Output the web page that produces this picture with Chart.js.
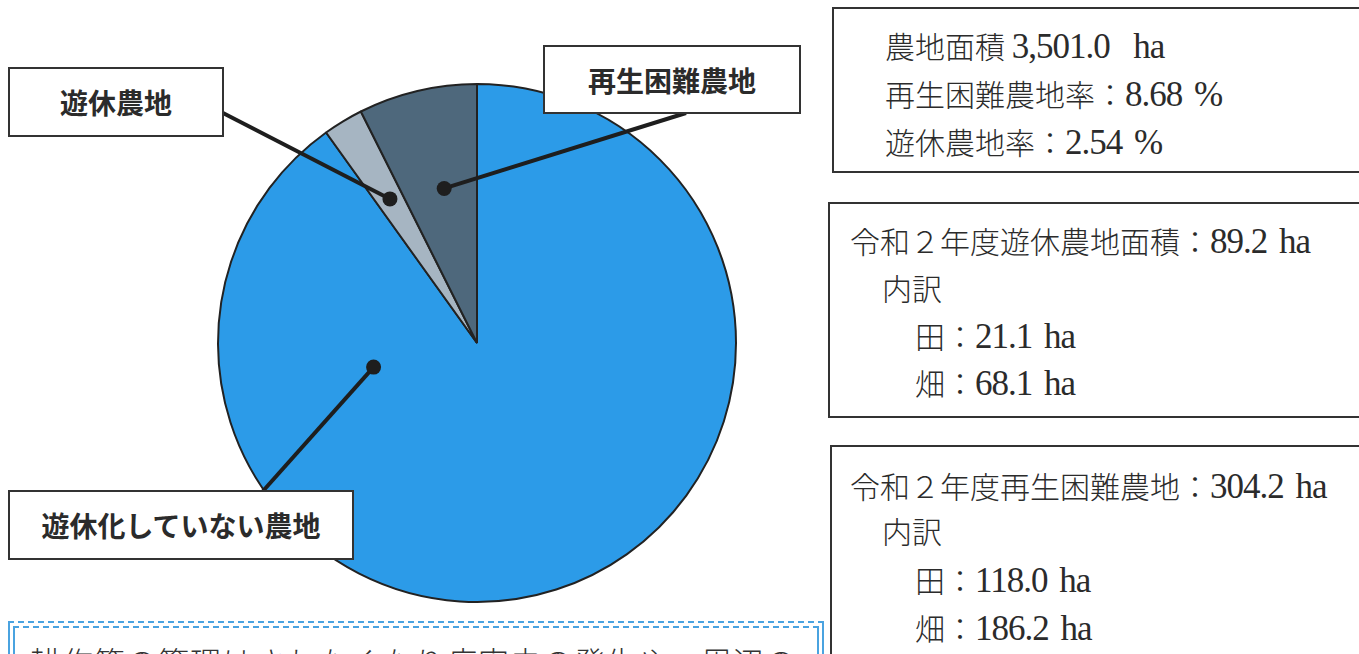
<!DOCTYPE html>
<html lang="ja">
<head>
<meta charset="utf-8">
<script src="https://cdn.jsdelivr.net/npm/chart.js@4/dist/chart.umd.min.js"></script>
<style>
  html, body { margin: 0; padding: 0; background: #fff; }
  body { width: 1359px; height: 654px; position: relative; overflow: hidden; }
  #chart-wrap { position: absolute; left: 0; top: 0; width: 1359px; height: 654px; }
  .label-box {
    position: absolute; background: #fff; border: 2.5px solid #333;
    font-family: "Noto Sans CJK JP", sans-serif; font-weight: bold;
    font-size: 28px; color: #2b2b2b; display: flex; align-items: center; justify-content: center;
    box-sizing: border-box; z-index: 2;
  }
  .info-box {
    position: absolute; border: 2px solid #333; background: #fff; box-sizing: border-box; z-index: 2;
    font-family: "Noto Sans CJK JP", sans-serif; font-weight: 300; font-size: 30px; color: #2b2b2b;
  }
  .info-box div { position: absolute; white-space: nowrap; line-height: 1; }
  .info-box .num { font-family: "Liberation Serif", serif; font-weight: normal; font-size: 35px; letter-spacing: -1px; word-spacing: 4px; }
  .note {
    position: absolute; left: 8px; top: 621px; width: 816px; height: 60px; z-index: 2;
    border-top: 2px dashed #4aa3e0; border-left: 2px solid #4aa3e0; border-right: 2px solid #4aa3e0;
    box-sizing: border-box; background: #fff;
  }
  .note::before {
    content: ""; position: absolute; left: 3px; right: 3px; top: 3px; height: 60px;
    border-top: 2px dashed #4aa3e0; border-left: 2px solid #4aa3e0; border-right: 2px solid #4aa3e0;
  }
  .note span {
    position: absolute; left: 20px; top: 15px; white-space: nowrap;
    font-family: "Noto Sans CJK JP", sans-serif; font-weight: 300; font-size: 31px; color: #333; letter-spacing: 1px;
  }
</style>
</head>
<body>
<div id="chart-wrap"><canvas id="pie"></canvas></div>

<div class="label-box" style="left:8px;top:67px;width:216px;height:70px;">遊休農地</div>
<div class="label-box" style="left:543px;top:45px;width:258px;height:69px;">再生困難農地</div>
<div class="label-box" style="left:8px;top:490px;width:346px;height:70px;">遊休化していない農地</div>

<div class="info-box" style="left:832px;top:7px;width:540px;height:166px;" id="info1"></div>
<div class="info-box" style="left:828px;top:202px;width:540px;height:216px;" id="info2"></div>
<div class="info-box" style="left:830px;top:445px;width:540px;height:230px;" id="info3"></div>

<div class="note"><span>耕作等の管理はされなくなり病害虫の発生や、周辺の</span></div>

<script>
// slices clockwise from 12 o'clock
const labels = ['遊休化していない農地', '遊休農地', '再生困難農地'];
const shares = [90.1, 2.5, 7.4];
const colors = ['#2c9be8', '#a6b5c2', '#4e687c'];

// text in the side boxes
const infoTotal = ['農地面積 3,501.0&nbsp; ha', '再生困難農地率：8.68 %', '遊休農地率：2.54 %'];
const infoIdle = ['令和２年度遊休農地面積：89.2 ha', '内訳', '田：21.1 ha', '畑：68.1 ha'];
const infoHard = ['令和２年度再生困難農地：304.2 ha', '内訳', '田：118.0 ha', '畑：186.2 ha'];

function fillInfo(id, lines, xs, ys) {
  document.getElementById(id).innerHTML = lines
    .map((t, i) => {
      const html = t.replace(/([0-9][0-9.,]*(&nbsp;)?\s*(ha|%))/g, '<span class="num">$1</span>');
      return `<div style="left:${xs[i]}px;top:${ys[i]}px">${html}</div>`;
    }).join('');
}
fillInfo('info1', infoTotal, [51, 51, 51], [20, 68, 116]);
fillInfo('info2', infoIdle, [20, 52, 85, 85], [20, 68, 115, 162]);
fillInfo('info3', infoHard, [18, 50, 83, 83], [22, 68, 116, 164]);

// leader lines: position along slice (t), radius fraction, end point on label box
const callouts = [
  { index: 0, t: 0.792, rf: 0.41, to: [263, 491] },
  { index: 1, t: 0.5, rf: 0.65, to: [223, 113] },
  { index: 2, t: 0.55, rf: 0.61, to: [686, 113] }
];

const calloutPlugin = {
  id: 'callouts',
  afterDatasetsDraw(chart) {
    const ctx = chart.ctx;
    const arcs = chart.getDatasetMeta(0).data;
    callouts.forEach(c => {
      const a = arcs[c.index];
      const ang = a.startAngle + (a.endAngle - a.startAngle) * c.t;
      const r = a.outerRadius * c.rf;
      const x = a.x + Math.cos(ang) * r;
      const y = a.y + Math.sin(ang) * r;
      ctx.save();
      ctx.strokeStyle = '#1e1e1e';
      ctx.lineWidth = 4;
      ctx.beginPath();
      ctx.moveTo(x, y);
      ctx.lineTo(c.to[0], c.to[1]);
      ctx.stroke();
      ctx.fillStyle = '#1e1e1e';
      ctx.beginPath();
      ctx.arc(x, y, 7.5, 0, Math.PI * 2);
      ctx.fill();
      ctx.restore();
    });
  }
};

new Chart(document.getElementById('pie'), {
  type: 'pie',
  data: {
    labels: labels,
    datasets: [{
      data: shares,
      backgroundColor: colors,
      borderColor: '#222',
      borderWidth: 2
    }]
  },
  options: {
    responsive: true, maintainAspectRatio: false,
    animation: false,
    layout: { padding: { left: 217, top: 83, right: 622, bottom: 51 } },
    plugins: { legend: { display: false }, tooltip: { enabled: false } }
  },
  plugins: [calloutPlugin]
});
</script>
</body>
</html>
